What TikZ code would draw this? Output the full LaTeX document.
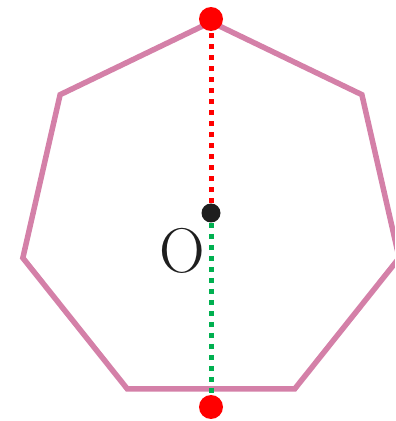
\documentclass[tikz,border=0pt]{standalone}
\usetikzlibrary{positioning, calc}
\definecolor{hepPink}{RGB}{212, 128, 168}
\definecolor{dotRed}{RGB}{255, 0, 0}
\definecolor{dotGreen}{RGB}{0, 176, 80}
\definecolor{ctrDark}{RGB}{30, 30, 30}

\begin{document}
\begin{tikzpicture}[
          dot/.style={circle, inner sep=0pt, minimum size=0.48cm},
          ctrdot/.style={circle, inner sep=0pt, minimum size=0.38cm, fill=ctrDark},
          dots/.style={line width=0.1cm, dash pattern=on 0.1cm off 0.12cm}]
        \clip (0,0) rectangle (7.9,8.42);
        \coordinate (c) at (4.22,4.12);
        % heptagon
        \foreach \k in {0,...,6}
          \coordinate (v\k) at ($(c)+(90-\k*360/7:3.86)$);
        \draw[hepPink, line width=0.11cm, line join=miter]
          (v0) -- (v1) -- (v2) -- (v3) -- (v4) -- (v5) -- (v6) -- cycle;
        \node[ctrdot] (o) at (4.22,4.16) {};
        \node[dot, fill=dotRed] (top) at (4.22,8.04) {};
        \node[dot, fill=dotRed] (bot) at (4.22,0.28) {};
        \draw[dots, dotRed] (o) -- (top);
        \draw[dots, dotGreen] (o) -- (bot);
        \node[font=\fontsize{36}{36}\selectfont, text=ctrDark] (lbl) at (3.64,3.40) {O};
      \end{tikzpicture}
\end{document}
